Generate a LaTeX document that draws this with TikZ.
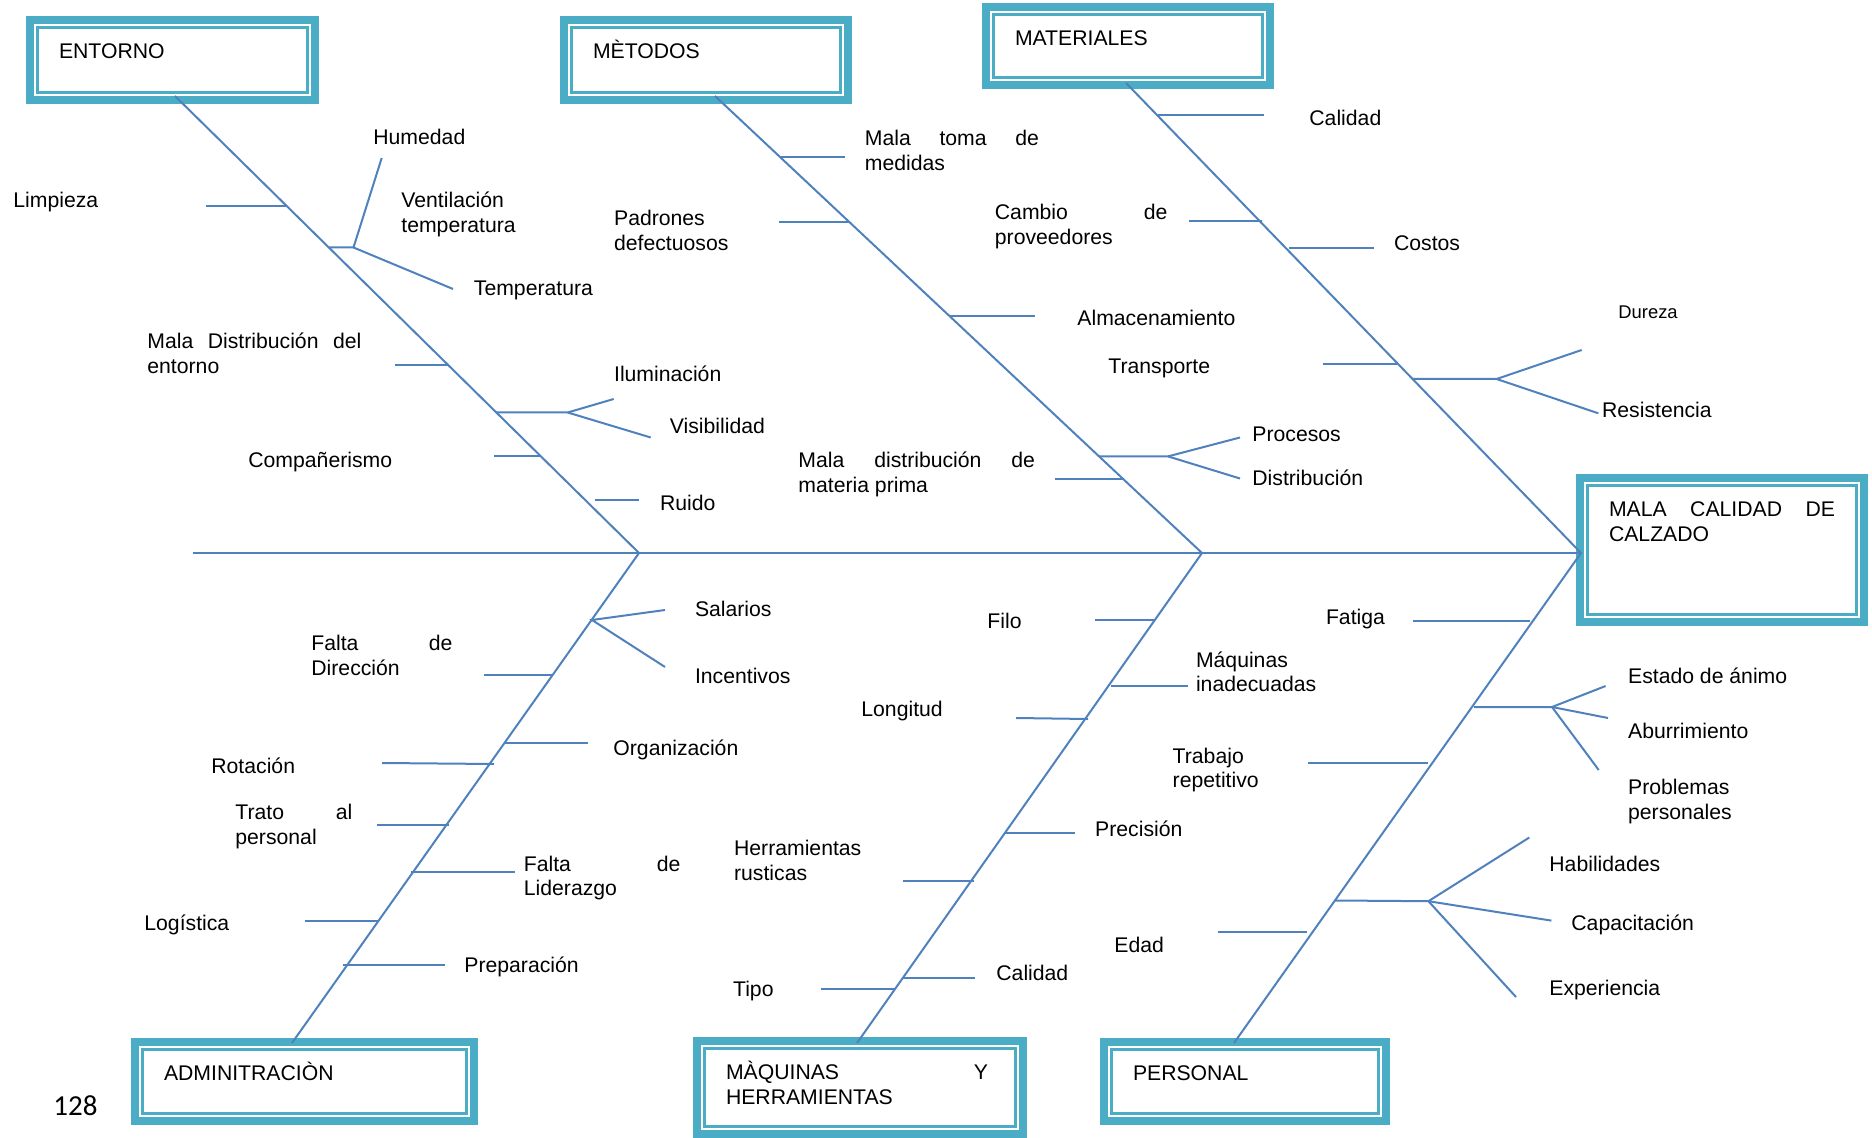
\documentclass[tikz,border=0pt]{standalone}
\usepackage{fontspec}
\setmainfont{Liberation Sans}
\newfontfamily\pagefont{Carlito}
\definecolor{boxteal}{HTML}{4BACC6}
\definecolor{boneblue}{HTML}{4F81BD}
\newcommand\lab{\fontsize{10.6}{12.4}\selectfont}
\newcommand\twol[2]{\vtop{\hbox{#1}\hbox{#2}}}
\newcommand\jtwol[3]{\vtop{\hbox{\makebox[#1][s]{#2}}\hbox{#3}}}
\begin{document}
\begin{tikzpicture}[x=0.5pt,y=-0.5pt,
  bone/.style={draw=boneblue,line width=1pt},
  rib/.style={draw=boneblue,line width=1pt},
  catbox/.style={draw=boxteal,line width=4pt,anchor=north west,inner xsep=14.5pt,inner ysep=0pt,outer sep=0pt,align=left,text height=19.25pt,font=\lab},
  innerline/.style={draw=boxteal,line width=1.2pt},
  lbl/.style={anchor=base west,inner sep=0pt,font=\lab},
  smalllbl/.style={anchor=base west,inner sep=0pt,font=\fontsize{9.2}{11}\selectfont}]
\useasboundingbox (0,0) rectangle (1872,1138);

% ---------- category boxes ----------
\node[catbox,text width=113.5pt,text depth=20.75pt] (entorno) at (30,20) {ENTORNO};
\node[catbox,text width=113pt,text depth=20.75pt] (metodos) at (564,20) {MÈTODOS};
\node[catbox,text width=113pt,text depth=19.75pt] (materiales) at (986,7) {MATERIALES};
\node[catbox,text width=113pt,text depth=52.75pt] (mala) at (1580,478) {\hbox to 113pt{MALA\hfill CALIDAD\hfill DE}\\CALZADO};
\node[catbox,text width=140.5pt,text depth=20.25pt] (admin) at (135,1042) {ADMINITRACIÒN};
\node[catbox,text width=134pt,text depth=27.25pt] (maquinas) at (697,1041) {\hbox to 131pt{MÀQUINAS\hfill Y}\\HERRAMIENTAS};
\node[catbox,text width=112pt,text depth=20.25pt] (personal) at (1104,1042) {PERSONAL};
\foreach \n in {entorno,metodos,materiales,mala,admin,maquinas,personal}
  \draw[innerline] ([shift={(7.6,7.6)}]\n.north west) rectangle ([shift={(-7.6,-7.6)}]\n.south east);

\node[anchor=base west,inner sep=0pt,font=\pagefont\fontsize{14.5}{16}\selectfont] (page) at (53,1115.7) {128};

% ---------- spine and bones ----------
\coordinate (tail) at (193,553);
\coordinate (j1) at (639,553);
\coordinate (j2) at (1202,553);
\coordinate (head) at (1581,553);
\coordinate (eTop) at (175,96);
\coordinate (mTop) at (715,96);
\coordinate (tTop) at (1126,83);
\coordinate (aBot) at (292,1043);
\coordinate (qBot) at (857,1043);
\coordinate (pBot) at (1234,1043);
\draw[bone] (tail) -- (j1) -- (j2) -- (head);
\draw[bone] (eTop) -- (j1) -- (aBot);
\draw[bone] (mTop) -- (j2) -- (qBot);
\draw[bone] (tTop) -- (head) -- (pBot);

% ---------- ENTORNO ribs ----------
\draw[rib] (206,206) -- (287,206);
\draw[rib] (329,247.5) -- (353.5,247.5) -- (381.7,158);
\draw[rib] (353.5,247.5) -- (453,289);
\draw[rib] (395,365) -- (449,365);
\draw[rib] (496,412.5) -- (567.7,412.5) -- (613.7,399);
\draw[rib] (567.7,412.5) -- (650.7,437.5);
\draw[rib] (494,456) -- (540,456);
\draw[rib] (595,500) -- (639,500);
% ---------- METODOS ribs ----------
\draw[rib] (780,157) -- (845,157);
\draw[rib] (779,222) -- (849,222);
\draw[rib] (949,316) -- (1035,316);
\draw[rib] (1099,456.4) -- (1168,456.4) -- (1240,437.5);
\draw[rib] (1168,456.4) -- (1240,478.5);
\draw[rib] (1055,479) -- (1123,479);
% ---------- MATERIALES ribs ----------
\draw[rib] (1157.5,115.5) -- (1264,115.5);
\draw[rib] (1189,221.5) -- (1262,221.5);
\draw[rib] (1289,248) -- (1374,248);
\draw[rib] (1323,364.5) -- (1398,364.5);
\draw[rib] (1412.6,379) -- (1496.6,379) -- (1581.7,350);
\draw[rib] (1496.6,379) -- (1598.3,413.3);
% ---------- ADMINISTRACION ribs ----------
\draw[rib] (665,610) -- (592,620) -- (665,667);
\draw[rib] (484,675.4) -- (553,675.4);
\draw[rib] (505,743) -- (588,743);
\draw[rib] (382,763) -- (494,764);
\draw[rib] (377,825) -- (449,825);
\draw[rib] (411,872) -- (515,872);
\draw[rib] (305,920.6) -- (379,920.6);
\draw[rib] (343,965) -- (445,965);
% ---------- MAQUINAS ribs ----------
\draw[rib] (1095,620) -- (1154,620);
\draw[rib] (1111,685.7) -- (1188,685.7);
\draw[rib] (1016,718) -- (1088,719);
\draw[rib] (1005,833) -- (1074.5,833);
\draw[rib] (903,880.6) -- (974,880.6);
\draw[rib] (903,977.5) -- (975,977.5);
\draw[rib] (821,989.3) -- (895,989.3);
% ---------- PERSONAL ribs ----------
\draw[rib] (1413,620.5) -- (1530,620.5);
\draw[rib] (1474,707) -- (1552,707) -- (1605.6,686);
\draw[rib] (1552,707) -- (1608,718);
\draw[rib] (1552,707) -- (1598.7,770);
\draw[rib] (1308,763) -- (1428,763);
\draw[rib] (1335,900.5) -- (1428.4,901.2) -- (1529.3,837.5);
\draw[rib] (1428.4,901.2) -- (1551.4,920.6);
\draw[rib] (1428.4,901.2) -- (1516,997);
\draw[rib] (1218,931.7) -- (1307,931.7);

% ---------- labels ----------
\node[lbl] (limpieza) at (13,207.5) {Limpieza};
\node[lbl] (humedad) at (373,145) {Humedad};
\node[lbl] (ventilacion) at (401,208) {\twol{Ventilación}{temperatura}};
\node[lbl] (temperatura) at (473.5,296) {Temperatura};
\node[lbl] (maladist) at (147,348.5) {\jtwol{107pt}{Mala Distribución del}{entorno}};
\node[lbl] (iluminacion) at (613.7,381.5) {Iluminación};
\node[lbl] (visibilidad) at (669.5,434) {Visibilidad};
\node[lbl] (companerismo) at (248,468) {Compañerismo};
\node[lbl] (ruido) at (659.6,510.5) {Ruido};

\node[lbl] (malatoma) at (864.5,145.5) {\jtwol{87pt}{Mala toma de}{medidas}};
\node[lbl] (padrones) at (613.7,226) {\twol{Padrones}{defectuosos}};
\node[lbl] (almacen) at (1077,325.5) {Almacenamiento};
\node[lbl] (transporte) at (1108,373.5) {Transporte};
\node[lbl] (maladistmp) at (798,468) {\jtwol{118.3pt}{Mala distribución de}{materia prima}};
\node[lbl] (procesos) at (1252,442) {Procesos};
\node[lbl] (distribucion) at (1252,486) {Distribución};

\node[lbl] (calidadmat) at (1309,126) {Calidad};
\node[lbl] (cambio) at (994.5,220) {\jtwol{86.3pt}{Cambio de}{proveedores}};
\node[lbl] (costos) at (1393.7,251) {Costos};
\node[smalllbl] (dureza) at (1618,318.3) {Dureza};
\node[lbl] (resistencia) at (1601.7,417.7) {Resistencia};

\node[lbl] (salarios) at (694.6,616) {Salarios};
\node[lbl] (incentivos) at (694.6,683) {Incentivos};
\node[lbl] (direccion) at (311,650.5) {\jtwol{70.5pt}{Falta de}{Dirección}};
\node[lbl] (organizacion) at (613,755.4) {Organización};
\node[lbl] (rotacion) at (211,773.3) {Rotación};
\node[lbl] (trato) at (235,819.5) {\jtwol{58.5pt}{Trato al}{personal}};
\node[lbl] (liderazgo) at (523.5,871) {\jtwol{78.3pt}{Falta de}{Liderazgo}};
\node[lbl] (logistica) at (144,930.5) {Logística};
\node[lbl] (preparacion) at (464,972.5) {Preparación};

\node[lbl] (filo) at (987,628.5) {Filo};
\node[lbl] (maqinad) at (1195.6,667) {\twol{Máquinas}{inadecuadas}};
\node[lbl] (longitud) at (861,716) {Longitud};
\node[lbl] (trabajo) at (1172.3,763) {\twol{Trabajo}{repetitivo}};
\node[lbl] (precision) at (1094.8,836) {Precisión};
\node[lbl] (herramientas) at (733.7,855.5) {\twol{Herramientas}{rusticas}};
\node[lbl] (edad) at (1114,952) {Edad};
\node[lbl] (tipo) at (732.7,996.5) {Tipo};
\node[lbl] (calidadmaq) at (996,980.5) {Calidad};

\node[lbl] (fatiga) at (1325.6,624.5) {Fatiga};
\node[lbl] (animo) at (1627.7,683) {Estado de ánimo};
\node[lbl] (aburrimiento) at (1627.7,738) {Aburrimiento};
\node[lbl] (problemas) at (1627.7,794.5) {\twol{Problemas}{personales}};
\node[lbl] (habilidades) at (1549,871) {Habilidades};
\node[lbl] (capacitacion) at (1571,930.5) {Capacitación};
\node[lbl] (experiencia) at (1549,995) {Experiencia};
\end{tikzpicture}
\end{document}
